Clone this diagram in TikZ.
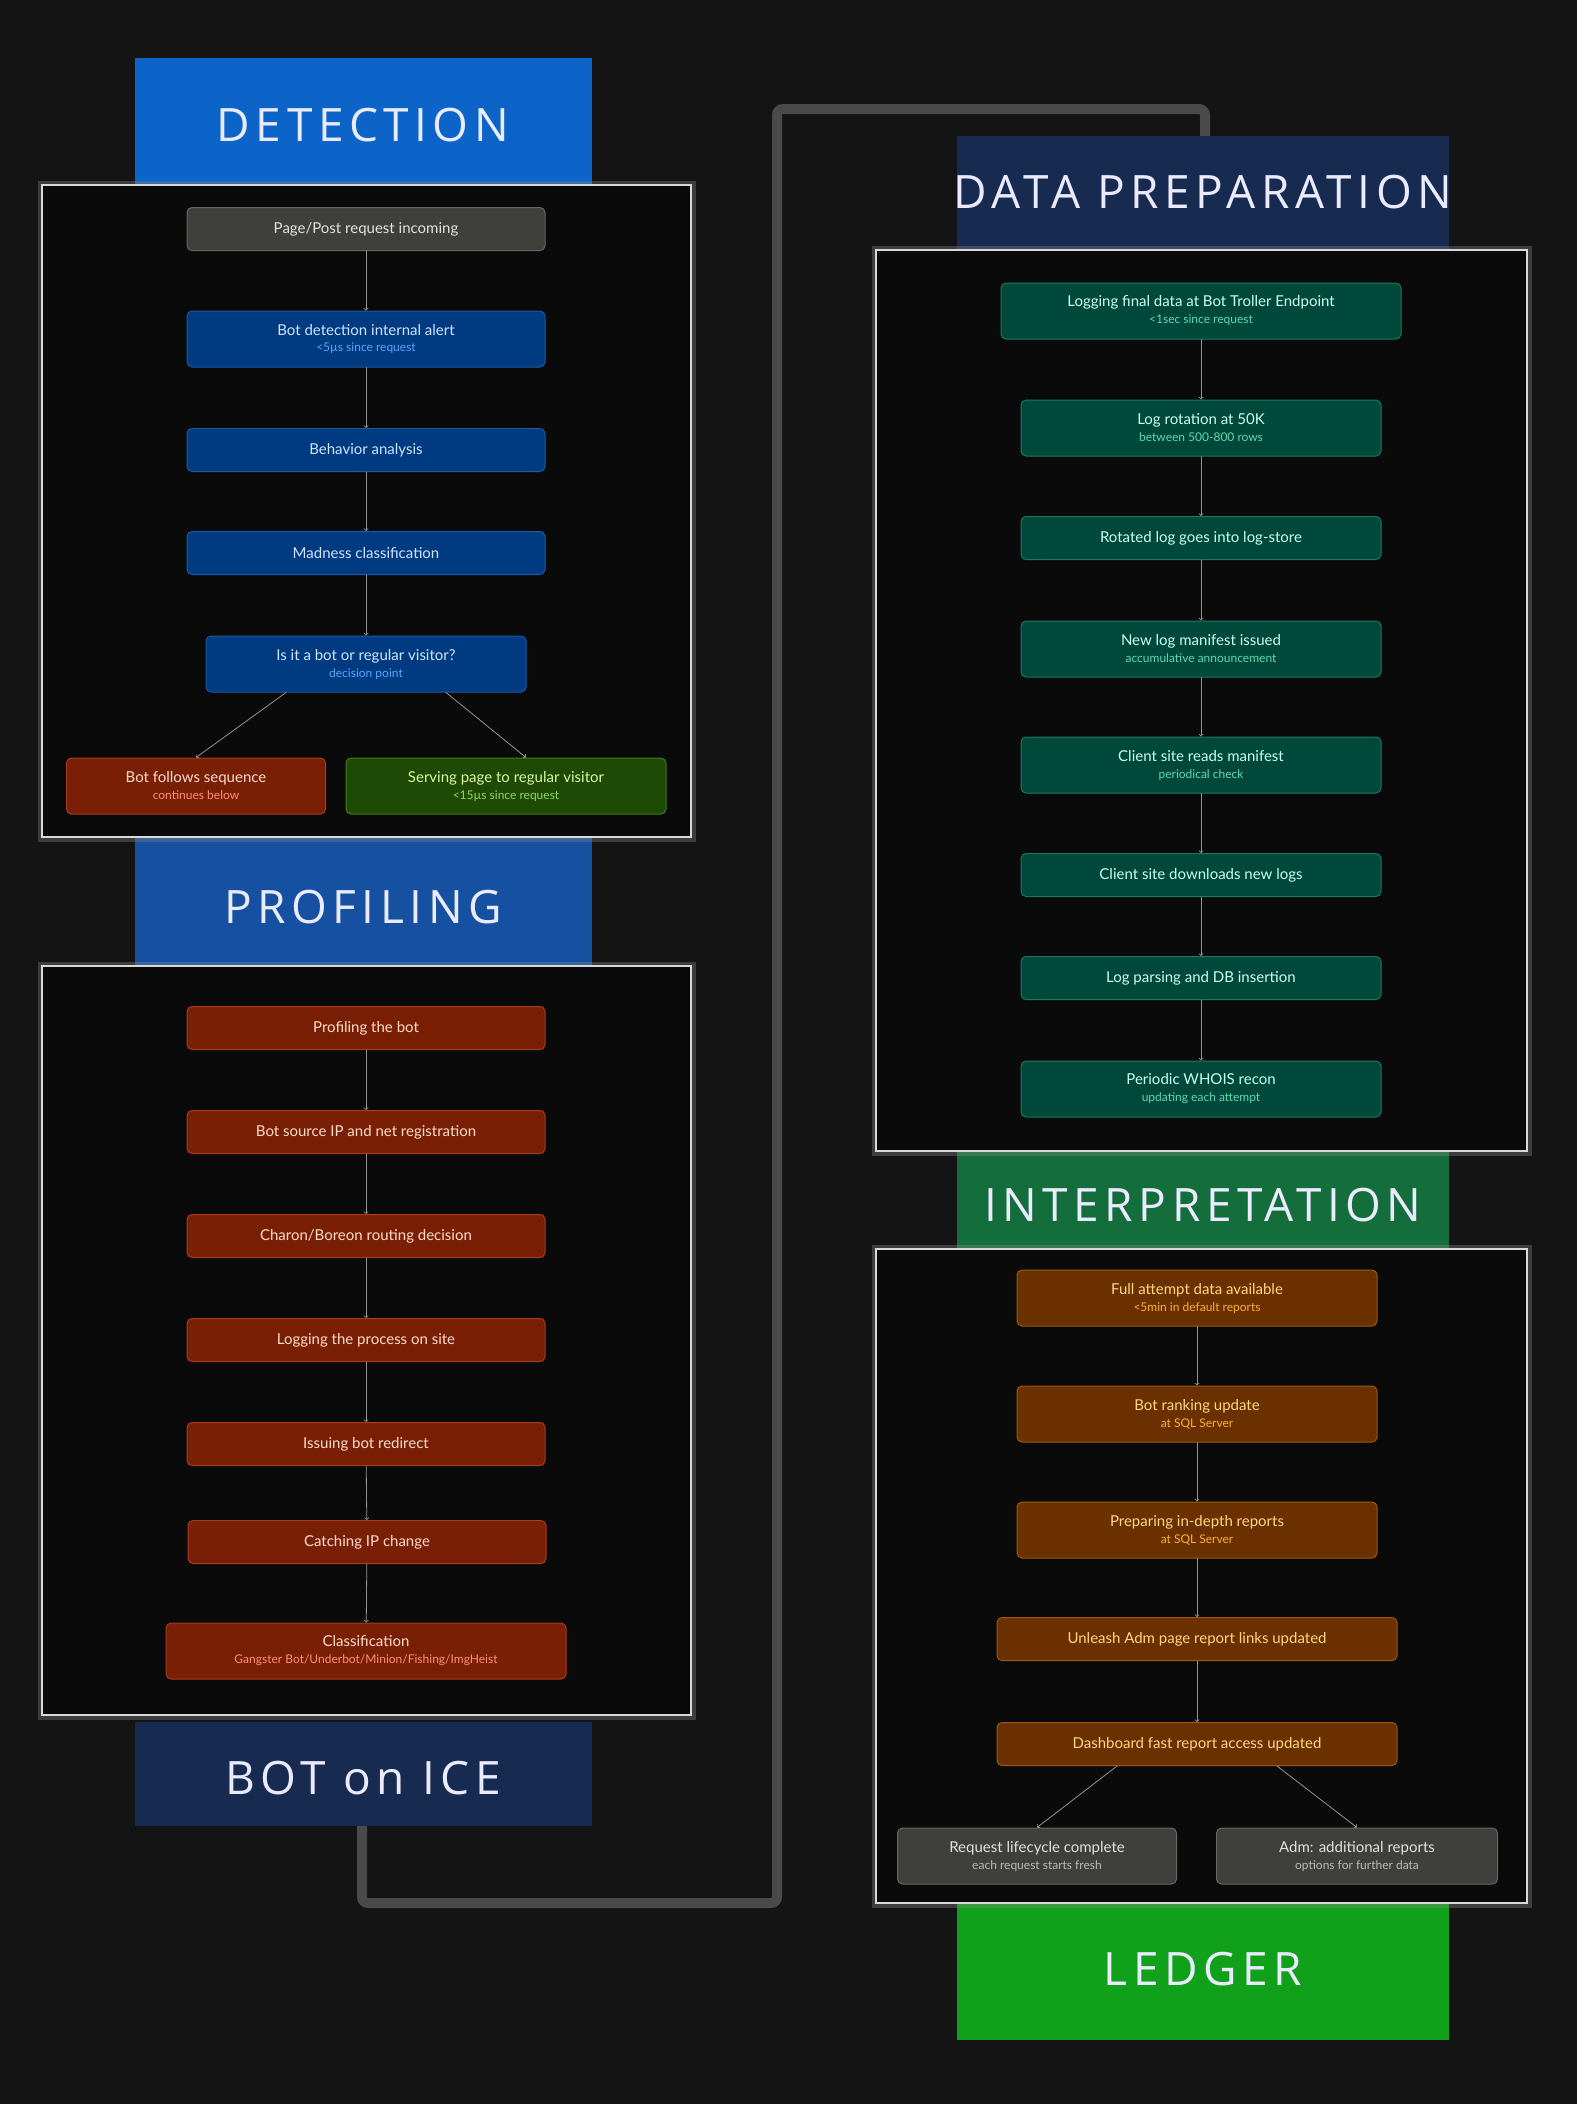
\documentclass[tikz,border=0pt]{standalone}
\usepackage{fontspec}
\setmainfont{Lato}
\newfontfamily\headfont[LetterSpace=12]{Open Sans}
\definecolor{bg}{HTML}{141414}
\definecolor{panel}{HTML}{0A0A0A}
\definecolor{track}{HTML}{4A4A4A}
\definecolor{hdetect}{HTML}{0C64C8}
\definecolor{hprof}{HTML}{1650A0}
\definecolor{hnavy}{HTML}{172A50}
\definecolor{hinter}{HTML}{146E3C}
\definecolor{hledger}{HTML}{11A01A}
\definecolor{gfill}{HTML}{3F3F3C}\definecolor{gdraw}{HTML}{666666}\definecolor{gtext}{HTML}{E2E2E2}\definecolor{gsub}{HTML}{BBBBBB}
\definecolor{bfill}{HTML}{003A80}\definecolor{bdraw}{HTML}{1A5AA8}\definecolor{btext}{HTML}{CFE4FF}\definecolor{bsub}{HTML}{5AA6FF}
\definecolor{rfill}{HTML}{781F05}\definecolor{rdraw}{HTML}{A83A20}\definecolor{rtext}{HTML}{FFDCCB}\definecolor{rsub}{HTML}{FF9070}
\definecolor{vfill}{HTML}{1F4A05}\definecolor{vdraw}{HTML}{3F7A1A}\definecolor{vtext}{HTML}{DAF8A0}\definecolor{vsub}{HTML}{90D860}
\definecolor{tfill}{HTML}{00493A}\definecolor{tdraw}{HTML}{1A7A60}\definecolor{ttext}{HTML}{C8FFF0}\definecolor{tsub}{HTML}{60D8B0}
\definecolor{ofill}{HTML}{6A3000}\definecolor{odraw}{HTML}{9A5A10}\definecolor{otext}{HTML}{FFD880}\definecolor{osub}{HTML}{FFB030}
\newcommand{\subln}[2]{\\[-1pt]{\color{#1}\fontsize{12}{14}\selectfont #2}}

\begin{document}
\begin{tikzpicture}[x=1pt,y=-1pt,line cap=round]
	\tikzstyle{box}=[rectangle,rounded corners=5,line width=1pt,align=center,font=\fontsize{15}{18}\selectfont,inner sep=0pt,minimum height=43];
	\tikzstyle{tall}=[box,minimum height=56];
	\tikzstyle{gbox}=[fill=gfill,draw=gdraw,text=gtext];
	\tikzstyle{bbox}=[fill=bfill,draw=bdraw,text=btext];
	\tikzstyle{rbox}=[fill=rfill,draw=rdraw,text=rtext];
	\tikzstyle{vbox}=[fill=vfill,draw=vdraw,text=vtext];
	\tikzstyle{tbox}=[fill=tfill,draw=tdraw,text=ttext];
	\tikzstyle{obox}=[fill=ofill,draw=odraw,text=otext];
	\tikzstyle{head}=[text=white!92!blue,font=\headfont\fontsize{46}{50}\selectfont];
	\tikzstyle{pan}=[fill=panel,draw=white!85!black,line width=1.5pt];
	\tikzstyle{glow}=[draw=white!55!black,line width=9pt,opacity=.35];
	\tikzstyle{flow}=[draw=gray!85,line width=.8pt,-to];

	\useasboundingbox[fill=bg] (0,0) rectangle (1577,2104);

	% track behind the sections
	\draw[track,line width=10pt,rounded corners=6] (362,1820) -- (362,1903) -- (777,1903) -- (777,109) -- (1205,109) -- (1205,140);

	% headers
	\fill[hdetect] (135,58) rectangle (592,185);
	\fill[hprof]   (135,837) rectangle (592,966);
	\fill[hnavy]   (135,1722) rectangle (592,1826);
	\fill[hnavy]   (957,136) rectangle (1449,250);
	\fill[hinter]  (957,1151) rectangle (1449,1249);
	\fill[hledger] (957,1903) rectangle (1449,2040);
	\node[head] (tdet)  at (363,125)  {DETECTION};
	\node[head] (tprof) at (363,907)  {PROFILING};
	\node[head] (tice)  at (363,1778) {BOT on ICE};
	\node[head] (tprep) at (1203,192) {DATA PREPARATION};
	\node[head] (tint)  at (1203,1205){INTERPRETATION};
	\node[head] (tled)  at (1203,1969){LEDGER};

	% panels
	\foreach \a/\b/\c/\d in {42/185/691/837, 42/966/691/1715, 876/250/1527/1151, 876/1249/1527/1903}{
		\draw[glow] (\a,\b) rectangle (\c,\d);
		\draw[pan]  (\a,\b) rectangle (\c,\d);
	}

	% detection
	\node[box,gbox,minimum width=358]  (req)  at (366,229) {Page/Post request incoming};
	\node[tall,bbox,minimum width=358] (alert) at (366,339) {Bot detection internal alert\subln{bsub}{<5µs since request}};
	\node[box,bbox,minimum width=358]  (beh)  at (366,450) {Behavior analysis};
	\node[box,bbox,minimum width=358]  (mad)  at (366,553) {Madness classification};
	\node[tall,bbox,minimum width=320] (dec)  at (366,664) {Is it a bot or regular visitor?\subln{bsub}{decision point}};
	\node[tall,rbox,minimum width=259] (seq)  at (196,786) {Bot follows sequence\subln{rsub}{continues below}};
	\node[tall,vbox,minimum width=320] (serv) at (506,786) {Serving page to regular visitor\subln{vsub}{<15µs since request}};
	\draw[flow] (req) -- (alert);
	\draw[flow] (alert) -- (beh);
	\draw[flow] (beh) -- (mad);
	\draw[flow] (mad) -- (dec);
	\draw[flow] (dec.south) ++(-80,0) -- (seq.north);
	\draw[flow] (dec.south) ++(80,0) -- ([xshift=20]serv.north);

	% profiling
	\node[box,rbox,minimum width=358]  (prof) at (366,1028) {Profiling the bot};
	\node[box,rbox,minimum width=358]  (src)  at (366,1132) {Bot source IP and net registration};
	\node[box,rbox,minimum width=358]  (rout) at (366,1236) {Charon/Boreon routing decision};
	\node[box,rbox,minimum width=358]  (logp) at (366,1340) {Logging the process on site};
	\node[box,rbox,minimum width=358]  (redir) at (366,1444) {Issuing bot redirect};
	\node[box,rbox,minimum width=358]  (ipc)  at (367,1542) {Catching IP change};
	\node[tall,rbox,minimum width=400] (cls)  at (366,1651) {Classification\subln{rsub}{Gangster Bot/Underbot/Minion/Fishing/ImgHeist}};
	\draw[flow] (prof) -- (src);
	\draw[flow] (src) -- (rout);
	\draw[flow] (rout) -- (logp);
	\draw[flow] (logp) -- (redir);
	\draw[flow] (redir) -- (ipc);
	\draw[flow] (ipc) -- (cls);

	% data preparation
	\node[tall,tbox,minimum width=400] (fin)  at (1201,311) {Logging final data at Bot Troller Endpoint\subln{tsub}{<1sec since request}};
	\node[tall,tbox,minimum width=360] (rot)  at (1201,428) {Log rotation at 50K\subln{tsub}{between 500-800 rows}};
	\node[box,tbox,minimum width=360]  (store) at (1201,538) {Rotated log goes into log-store};
	\node[tall,tbox,minimum width=360] (man)  at (1201,649) {New log manifest issued\subln{tsub}{accumulative announcement}};
	\node[tall,tbox,minimum width=360] (read) at (1201,765) {Client site reads manifest\subln{tsub}{periodical check}};
	\node[box,tbox,minimum width=360]  (down) at (1201,875) {Client site downloads new logs};
	\node[box,tbox,minimum width=360]  (pars) at (1201,978) {Log parsing and DB insertion};
	\node[tall,tbox,minimum width=360] (who)  at (1201,1089) {Periodic WHOIS recon\subln{tsub}{updating each attempt}};
	\draw[flow] (fin) -- (rot);
	\draw[flow] (rot) -- (store);
	\draw[flow] (store) -- (man);
	\draw[flow] (man) -- (read);
	\draw[flow] (read) -- (down);
	\draw[flow] (down) -- (pars);
	\draw[flow] (pars) -- (who);

	% interpretation
	\node[tall,obox,minimum width=360] (full) at (1197,1298) {Full attempt data available\subln{osub}{<5min in default reports}};
	\node[tall,obox,minimum width=360] (rank) at (1197,1414) {Bot ranking update\subln{osub}{at SQL Server}};
	\node[tall,obox,minimum width=360] (deep) at (1197,1530) {Preparing in-depth reports\subln{osub}{at SQL Server}};
	\node[box,obox,minimum width=400]  (unl)  at (1197,1639) {Unleash Adm page report links updated};
	\node[box,obox,minimum width=400]  (dash) at (1197,1744) {Dashboard fast report access updated};
	\node[tall,gbox,minimum width=279] (done) at (1037,1856) {Request lifecycle complete\subln{gsub}{each request starts fresh}};
	\node[tall,gbox,minimum width=281] (adm)  at (1357,1856) {Adm: additional reports\subln{gsub}{options for further data}};
	\draw[flow] (full) -- (rank);
	\draw[flow] (rank) -- (deep);
	\draw[flow] (deep) -- (unl);
	\draw[flow] (unl) -- (dash);
	\draw[flow] (dash.south) ++(-80,0) -- (done.north);
	\draw[flow] (dash.south) ++(80,0) -- (adm.north);
\end{tikzpicture}
\end{document}
